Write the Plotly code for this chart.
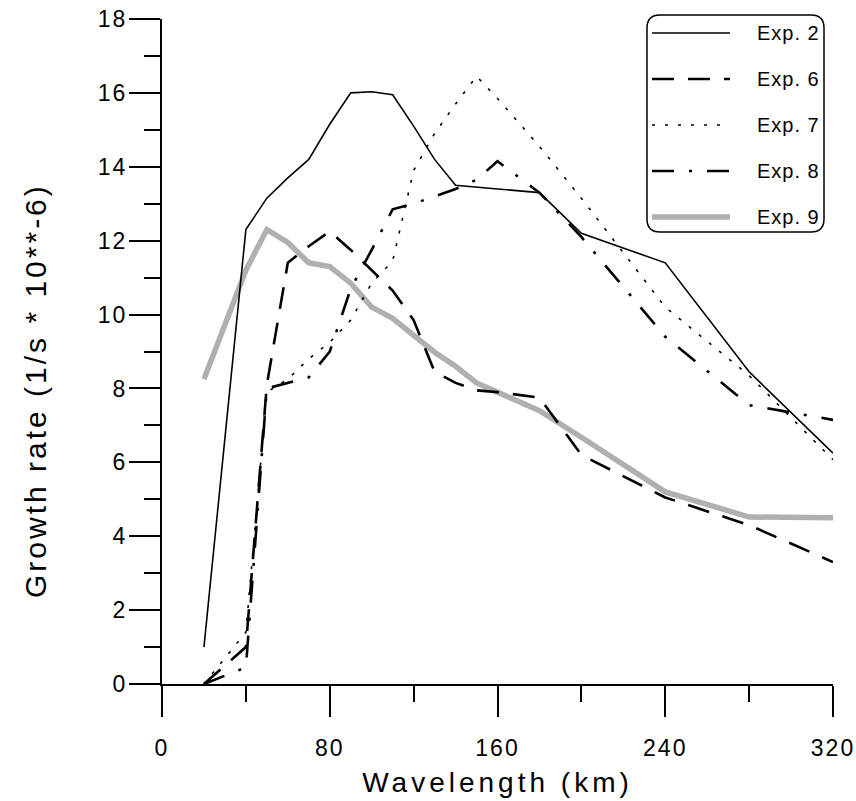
import plotly.graph_objects as go

# ---------------- data ----------------
x_exp2 = [20, 40, 50, 60, 70, 80, 90, 100, 110, 120, 130, 140, 160, 180, 200, 240, 280, 320]
y_exp2 = [1.0, 12.3, 13.15, 13.7, 14.2, 15.15, 16.0, 16.03, 15.95, 15.1, 14.2, 13.5, 13.4, 13.3, 12.2, 11.4, 8.45, 6.25]

x_exp6 = [20, 40, 50, 60, 70, 80, 90, 100, 110, 120, 130, 140, 150, 160, 180, 200, 240, 280, 320]
y_exp6 = [0.0, 1.0, 8.1, 11.4, 11.85, 12.25, 11.75, 11.2, 10.65, 9.85, 8.45, 8.15, 7.95, 7.9, 7.75, 6.2, 5.05, 4.3, 3.3]

x_exp7 = [20, 40, 50, 60, 70, 80, 90, 100, 110, 120, 130, 140, 150, 160, 180, 200, 240, 280, 320]
y_exp7 = [0.0, 1.4, 7.9, 8.25, 8.8, 9.25, 9.85, 10.85, 11.45, 13.9, 14.9, 15.7, 16.45, 15.85, 14.55, 13.15, 10.2, 8.35, 6.07]

x_exp8 = [20, 40, 50, 60, 70, 80, 90, 100, 110, 120, 130, 140, 150, 160, 180, 200, 240, 280, 320]
y_exp8 = [0.0, 0.45, 8.0, 8.15, 8.3, 9.0, 10.7, 11.75, 12.85, 13.0, 13.2, 13.4, 13.65, 14.15, 13.3, 12.1, 9.4, 7.55, 7.15]

x_exp9 = [20, 40, 50, 60, 70, 80, 90, 100, 110, 120, 130, 140, 150, 160, 180, 200, 240, 280, 320]
y_exp9 = [8.25, 11.2, 12.3, 11.95, 11.4, 11.3, 10.85, 10.2, 9.9, 9.45, 8.98, 8.6, 8.15, 7.9, 7.4, 6.68, 5.2, 4.52, 4.5]

series_names = ["Exp. 2", "Exp. 6", "Exp. 7", "Exp. 8", "Exp. 9"]
x_ticks = [0, 80, 160, 240, 320]
x_minor = [40, 120, 200, 280]
y_ticks = [0, 2, 4, 6, 8, 10, 12, 14, 16, 18]
x_title = "Wavelength (km)"
y_title = "Growth rate (1/s * 10**-6)"

# ---------------- styles ----------------
styles = [
    dict(color="black", width=1.6, dash="solid"),
    dict(color="black", width=2.6, dash="22px,14px"),
    dict(color="black", width=1.6, dash="3px,10px"),
    dict(color="black", width=2.6, dash="22px,15px,3px,15px"),
    dict(color="#b0b0b0", width=5.5, dash="solid"),
]

W, H = 856, 801
L, R, T, B = 162, 23, 19, 117
PW, PH = W - L - R, H - T - B

def px(x):
    return (x - L) / PW

def py(y):
    return (H - B - y) / PH

def spaced(s, sp):
    return f'<span style="letter-spacing:{sp}px">{s}</span>'

FONT = "Liberation Sans, Arial, Helvetica, sans-serif"

fig = go.Figure()
xs = [x_exp2, x_exp6, x_exp7, x_exp8, x_exp9]
ys = [y_exp2, y_exp6, y_exp7, y_exp8, y_exp9]
order = [4, 0, 1, 2, 3]
for i in order:
    fig.add_trace(go.Scatter(x=xs[i], y=ys[i], mode="lines", name=series_names[i],
                             line=styles[i], showlegend=False, hoverinfo="x+y+name"))

# ---------------- manual legend ----------------
bx0, bx1, by0, by1, r = 647, 824, 15, 232, 13
rx, ry = r / PW, r / PH
x0p, x1p, y0p, y1p = px(bx0), px(bx1), py(by1), py(by0)
path = (f"M {x0p+rx},{y1p} L {x1p-rx},{y1p} Q {x1p},{y1p} {x1p},{y1p-ry} "
        f"L {x1p},{y0p+ry} Q {x1p},{y0p} {x1p-rx},{y0p} "
        f"L {x0p+rx},{y0p} Q {x0p},{y0p} {x0p},{y0p+ry} "
        f"L {x0p},{y1p-ry} Q {x0p},{y1p} {x0p+rx},{y1p} Z")
shapes = [dict(type="path", path=path, xref="paper", yref="paper",
               line=dict(color="black", width=1.5), fillcolor="white", layer="above")]
annotations = []
legend_rows = [33, 79, 125, 171, 217]
for i, yy in enumerate(legend_rows):
    shapes.append(dict(type="line", xref="paper", yref="paper",
                       x0=px(652), x1=px(730), y0=py(yy), y1=py(yy),
                       line=styles[i], layer="above"))
    annotations.append(dict(xref="paper", yref="paper", x=px(822), y=py(yy),
                            xanchor="right", yanchor="middle", showarrow=False,
                            text=spaced(series_names[i], 1),
                            font=dict(family=FONT, size=20, color="black")))

# y-axis title as a rotated annotation (positioned like the reference)
annotations.append(dict(xref="paper", yref="paper", x=px(35), y=py(391),
                        xanchor="center", yanchor="middle", showarrow=False,
                        textangle=-90, text=spaced(y_title, 3),
                        font=dict(family=FONT, size=30, color="black")))

fig.update_layout(
    width=W, height=H, autosize=False,
    margin=dict(l=L, r=R, t=T, b=B, pad=0, autoexpand=False),
    plot_bgcolor="white", paper_bgcolor="white",
    shapes=shapes, annotations=annotations,
    font=dict(family=FONT, color="black"),
)

fig.update_xaxes(
    range=[0, 320], tickvals=x_ticks, ticktext=[spaced(str(v), 2) for v in x_ticks],
    ticks="outside", ticklen=31, tickwidth=1.5, tickcolor="black",
    showline=True, linewidth=2, linecolor="black", mirror=False,
    showgrid=False, zeroline=False, automargin=False,
    minor=dict(tickvals=x_minor, ticks="outside", ticklen=16, tickwidth=1.5, tickcolor="black", showgrid=False),
    tickfont=dict(family=FONT, size=23, color="black"),
    ticklabelstandoff=11,
    title=dict(text=spaced(x_title, 4),
               font=dict(family=FONT, size=28, color="black"), standoff=13),
)
fig.update_yaxes(
    range=[0, 18], tickvals=y_ticks, ticktext=[spaced(str(v), 2) for v in y_ticks],
    ticks="outside", ticklen=31, tickwidth=1.5, tickcolor="black",
    showline=True, linewidth=2, linecolor="black", mirror=False,
    showgrid=False, zeroline=False, automargin=False,
    minor=dict(dtick=1, ticks="outside", ticklen=16, tickwidth=1.5, tickcolor="black", showgrid=False),
    tickfont=dict(family=FONT, size=23, color="black"),
    ticklabelstandoff=-3,
)

fig.write_html("out.html")
